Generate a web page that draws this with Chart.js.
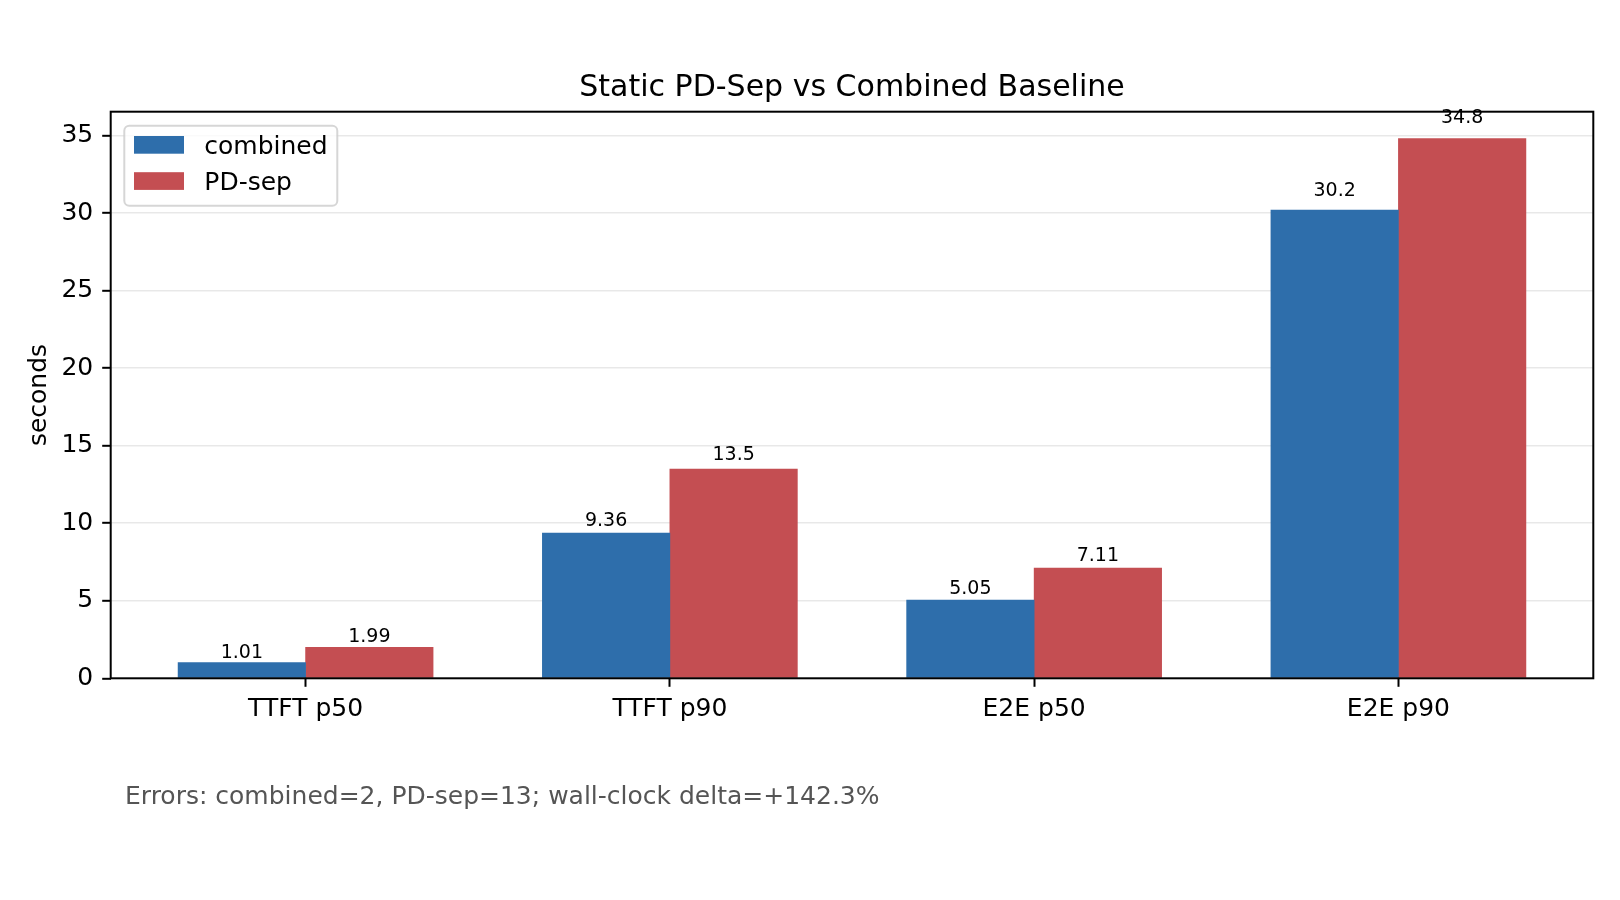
<!DOCTYPE html>
<html>
<head>
<meta charset="utf-8">
<script src="https://cdn.jsdelivr.net/npm/chart.js@4.4.1/dist/chart.umd.min.js"></script>
<style>
  html, body { margin: 0; padding: 0; background: #fff; }
  #wrap { width: 1620px; height: 900px; }
</style>
</head>
<body>
<div id="wrap"><canvas id="chart"></canvas></div>
<script>
// data
const categories = ['TTFT p50', 'TTFT p90', 'E2E p50', 'E2E p90'];
const combinedValues = [1.01, 9.36, 5.05, 30.2];
const pdSepValues = [1.99, 13.5, 7.11, 34.8];
const yTickValues = [0, 5, 10, 15, 20, 25, 30, 35];
const seriesNames = ['combined', 'PD-sep'];
const seriesColors = ['#2e6eab', '#c44e52'];
const titleText = 'Static PD-Sep vs Combined Baseline';
const yAxisTitle = 'seconds';
const footerText = 'Errors: combined=2, PD-sep=13; wall-clock delta=+142.3%';

const FONT = '"DejaVu Sans", sans-serif';
const BAR_W = 0.35;
const span = (categories.length - 1) + 2 * BAR_W;
const xMin = -BAR_W - 0.05 * span;
const xMax = categories.length - 1 + BAR_W + 0.05 * span;
const yMax = Math.max(...combinedValues, ...pdSepValues) * 1.05;

Chart.defaults.font.family = FONT;
Chart.defaults.color = '#000';

const toPoints = (vals, shift) => vals.map((v, i) => ({ x: i + shift, y: v }));

const decorations = {
    id: 'decorations',
    afterDraw(chart) {
        const { ctx, chartArea: a, scales: { y } } = chart;
        ctx.save();

        // value labels above bars
        ctx.font = '19px ' + FONT;
        ctx.fillStyle = '#000';
        ctx.textAlign = 'center';
        ctx.textBaseline = 'alphabetic';
        chart.data.datasets.forEach((ds, di) => {
            chart.getDatasetMeta(di).data.forEach((bar, i) => {
                const v = ds.data[i].y;
                ctx.fillText(String(v), bar.x, y.getPixelForValue(v * 1.02) - 4.5);
            });
        });

        // axes frame
        ctx.strokeStyle = '#000';
        ctx.lineWidth = 2;
        ctx.strokeRect(a.left, a.top, a.right - a.left, a.bottom - a.top);

        // title
        ctx.font = '30px ' + FONT;
        ctx.fillText(titleText, (a.left + a.right) / 2, 96);

        // legend
        const lx = a.left + 13.6, ly = a.top + 14;
        ctx.beginPath();
        ctx.roundRect(lx, ly, 213, 80, 5);
        ctx.fillStyle = 'rgba(255,255,255,0.8)';
        ctx.fill();
        ctx.strokeStyle = 'rgba(204,204,204,0.8)';
        ctx.lineWidth = 2;
        ctx.stroke();
        ctx.font = '25px ' + FONT;
        ctx.textAlign = 'left';
        seriesNames.forEach((name, i) => {
            const base = ly + 28.3 + i * 36.2;
            ctx.fillStyle = seriesColors[i];
            ctx.fillRect(lx + 9.7, base - 18, 50, 17.7);
            ctx.fillStyle = '#000';
            ctx.fillText(name, lx + 80, base);
        });

        // footer note
        ctx.font = '25px ' + FONT;
        ctx.fillStyle = '#555555';
        ctx.fillText(footerText, 125, 804.3);

        ctx.restore();
    }
};

new Chart(document.getElementById('chart').getContext('2d'), {
    type: 'bar',
    data: {
        datasets: [
            {
                label: seriesNames[0],
                data: toPoints(combinedValues, -BAR_W / 2),
                backgroundColor: seriesColors[0],
                borderWidth: 0,
            },
            {
                label: seriesNames[1],
                data: toPoints(pdSepValues, BAR_W / 2),
                backgroundColor: seriesColors[1],
                borderWidth: 0,
            }
        ]
    },
    options: {
        responsive: true,
        maintainAspectRatio: false,
        animation: false,
        grouped: false,
        barPercentage: 1,
        categoryPercentage: 1,
        layout: { padding: { top: 111.7, right: 26.7, bottom: 161.7, left: 0 } },
        plugins: {
            legend: { display: false },
            title: { display: false },
            tooltip: { enabled: false }
        },
        scales: {
            x: {
                type: 'linear',
                min: xMin,
                max: xMax,
                offset: false,
                afterBuildTicks: s => { s.ticks = categories.map((c, i) => ({ value: i })); },
                afterFit: s => { s.height = 60; },
                border: { display: false },
                grid: { offset: false, drawOnChartArea: false, tickColor: '#000', tickWidth: 2, tickLength: 8.5 },
                ticks: {
                    font: { size: 25 }, color: '#000', padding: 8,
                    maxRotation: 0, autoSkip: false,
                    callback: v => categories[v]
                }
            },
            y: {
                z: 1,
                min: 0,
                max: yMax,
                afterBuildTicks: s => { s.ticks = yTickValues.map(v => ({ value: v })); },
                afterFit: s => { s.width = 110.7; },
                border: { display: false },
                grid: {
                    color: c => (c.tick && c.tick.value === 0) ? 'rgba(0,0,0,0)' : 'rgba(190,190,190,0.35)',
                    lineWidth: 1.6,
                    tickColor: '#000',
                    tickWidth: 2,
                    tickLength: 8.5
                },
                ticks: { font: { size: 25 }, color: '#000', padding: 9 },
                title: {
                    display: true, text: yAxisTitle, color: '#000',
                    font: { size: 25 }, padding: { top: 24, bottom: 0 }
                }
            }
        }
    },
    plugins: [decorations]
});
</script>
</body>
</html>
